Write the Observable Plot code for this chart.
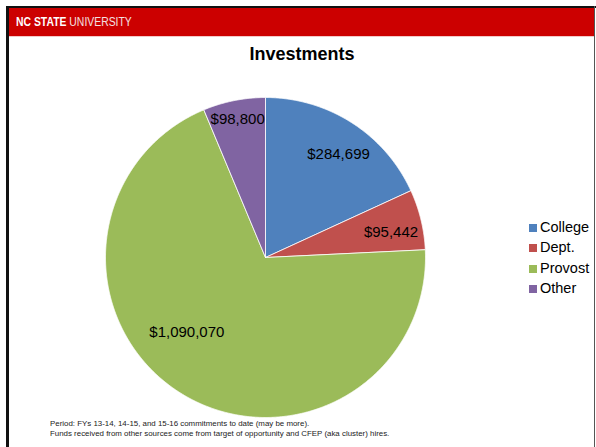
<!DOCTYPE html>
<html><head><meta charset="utf-8">
<script src="https://cdn.jsdelivr.net/npm/d3@7"></script>
<script src="https://cdn.jsdelivr.net/npm/@observablehq/plot@0.6"></script>
<style>
html,body{margin:0;padding:0;background:#fff;}
#page{position:relative;width:596px;height:447px;overflow:hidden;font-family:"Liberation Sans",Arial,sans-serif;background:#fff;}
.abs{position:absolute;}
#topline{left:6px;top:6px;width:590px;height:2px;background:#111;}
#leftline{left:6px;top:6px;width:3px;height:441px;background:#111;}
#rightline{left:594px;top:6px;width:1px;height:441px;background:#555;}
#header{left:9px;top:8px;width:585px;height:28px;background:#CC0000;border-bottom:1px solid #f3c9c9;}
#brand{left:16px;top:14px;font-family:"Liberation Sans",Arial,sans-serif;font-size:13px;color:#fff;white-space:nowrap;line-height:16px;transform:scaleX(0.8);transform-origin:0 0;}
#brand b{font-weight:bold;}
#brand span{color:#f4e0e0;}
#title{left:0;width:604px;top:43px;text-align:center;font-weight:bold;font-size:18px;line-height:22px;color:#000;}
#legend{left:529px;top:217px;font-size:14.5px;line-height:20.3px;color:#000;}
#legend div{white-space:nowrap;}
#legend i{display:inline-block;width:8px;height:8px;margin-right:3px;vertical-align:0px;}
#foot{left:50px;top:419px;font-size:7.9px;line-height:10px;color:#222;white-space:nowrap;}
#chart{left:0;top:0;}
</style></head><body><div id="page">
<div class="abs" id="chart"></div>
<div class="abs" id="header"></div>
<div class="abs" id="topline"></div>
<div class="abs" id="leftline"></div>
<div class="abs" id="rightline"></div>
<div class="abs" id="brand"><b>NC STATE</b> <span>UNIVERSITY</span></div>
<div class="abs" id="title">Investments</div>
<div class="abs" id="legend"></div>
<div class="abs" id="foot"></div>
</div>
<script>
const categories = ["College", "Dept.", "Provost", "Other"];
const values = [284699, 95442, 1090070, 98800];
const valueLabels = ["$284,699", "$95,442", "$1,090,070", "$98,800"];
const colors = ["#4F81BD", "#C0504D", "#9BBB59", "#8064A2"];
const footnotes = [
  "Period: FYs 13-14, 14-15, and 15-16 commitments to date (may be more).",
  "Funds received from other sources come from target of opportunity and CFEP (aka cluster) hires."
];

// label placement (styling): radius fraction and angle offset per slice
const labelRadius = [0.79, 0.80, 0.68, 0.88];
const labelAngleShift = [0.046, 0.042, 0.245, -0.001];

const data = categories.map((c, i) => ({cat: c, value: values[i], label: valueLabels[i]}));
const arcs = d3.pie().sort(null).value(d => d.value).startAngle(0).endAngle(2 * Math.PI)(data);

const pts = [];
arcs.forEach(a => {
  const cat = a.data.cat;
  pts.push({cat, x: 0, y: 0});
  const n = Math.max(4, Math.ceil((a.endAngle - a.startAngle) / 0.005));
  for (let k = 0; k <= n; k++) {
    const t = a.startAngle + (a.endAngle - a.startAngle) * k / n;
    pts.push({cat, x: Math.sin(t), y: Math.cos(t)});
  }
  pts.push({cat, x: 0, y: 0});
});

const labels = arcs.map((a, i) => {
  const m = (a.startAngle + a.endAngle) / 2 + labelAngleShift[i];
  const r = labelRadius[i];
  return {x: r * Math.sin(m), y: r * Math.cos(m), text: a.data.label};
});

const chart = Plot.plot({
  width: 596,
  height: 447,
  marginLeft: 105,
  marginRight: 171,
  marginTop: 97,
  marginBottom: 30,
  style: {background: "transparent", fontFamily: "'Liberation Sans', Arial, sans-serif", overflow: "visible"},
  x: {domain: [-1, 1], axis: null},
  y: {domain: [-1, 1], axis: null},
  color: {domain: categories, range: colors},
  marks: [
    Plot.line(pts, {x: "x", y: "y", z: "cat", fill: "cat", stroke: "white", strokeWidth: 0.8, strokeLinejoin: "round"}),
    Plot.text(labels, {x: "x", y: "y", text: "text", fontSize: 15, fill: "#000"})
  ]
});
document.getElementById("chart").appendChild(chart);

const leg = document.getElementById("legend");
categories.forEach((c, i) => {
  const row = document.createElement("div");
  const sw = document.createElement("i");
  sw.style.background = colors[i];
  row.appendChild(sw);
  row.appendChild(document.createTextNode(c));
  leg.appendChild(row);
});
const foot = document.getElementById("foot");
footnotes.forEach(t => {
  const d = document.createElement("div");
  d.textContent = t;
  foot.appendChild(d);
});
</script>
</body></html>
